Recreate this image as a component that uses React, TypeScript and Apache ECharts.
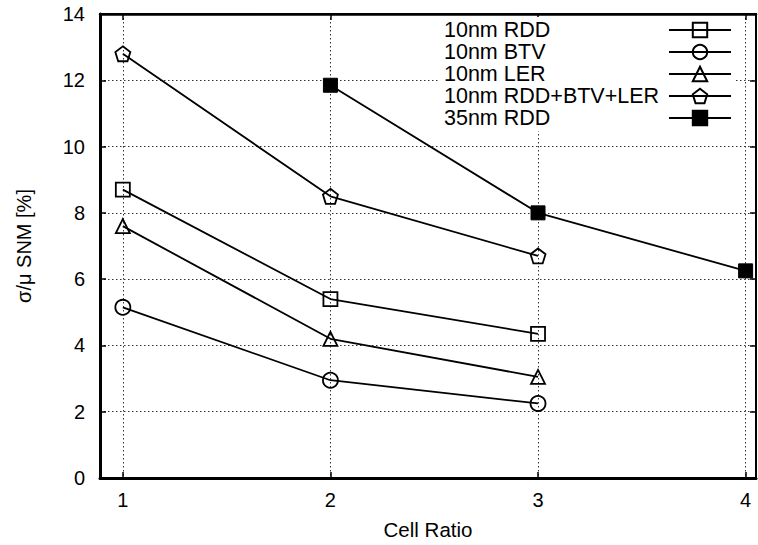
import React, { useEffect, useRef } from "react";
import * as echarts from "echarts";

// Cell ratio values (x) for each family of curves
const cellRatio10nm = [1, 2, 3];
const cellRatio35nm = [2, 3, 4];

// σ/μ of SNM in percent
const rdd10nm = [8.7, 5.4, 4.35];
const btv10nm = [5.15, 2.95, 2.25];
const ler10nm = [7.6, 4.2, 3.05];
const combined10nm = [12.8, 8.5, 6.7];
const rdd35nm = [11.85, 8.0, 6.25];

const seriesNames = [
  "10nm RDD",
  "10nm BTV",
  "10nm LER",
  "10nm RDD+BTV+LER",
  "35nm RDD",
];

const FONT = "'Liberation Sans', Arial, Helvetica, sans-serif";
const PENTAGON = "path://M0,-10L9.51,-3.09L5.88,8.09L-5.88,8.09L-9.51,-3.09Z";

const pairs = (xs: number[], ys: number[]) => xs.map((x, i) => [x, ys[i]]);

export default function App() {
  const ref = useRef<HTMLDivElement>(null);

  useEffect(() => {
    if (!ref.current) return;
    const chart = echarts.init(ref.current, undefined, { renderer: "svg" });

    const openItem = { color: "rgba(0,0,0,0)", borderColor: "#000", borderWidth: 1.8 };
    const line = { color: "#000", width: 1.8 };

    const mk = (name: string, data: number[][], symbol: string, size: number, filled = false) => ({
      name,
      type: "line",
      data,
      symbol,
      symbolSize: size,
      showAllSymbol: true,
      color: "#000",
      lineStyle: line,
      itemStyle: filled ? { color: "#000", borderColor: "#000", borderWidth: 1 } : openItem,
      xAxisIndex: 0,
      yAxisIndex: 0,
      z: 5,
    });

    const gridLine = { show: true, lineStyle: { color: "#333", width: 1, type: [1.5, 2.5] as any } };
    const tick = { show: true, inside: true, length: 6, lineStyle: { color: "#000", width: 1.5 } };

    chart.setOption({
      animation: false,
      backgroundColor: "#fff",
      textStyle: { fontFamily: FONT, color: "#000" },
      grid: {
        left: 100,
        right: 2,
        top: 14,
        bottom: 65,
        show: true,
        borderColor: "#000",
        borderWidth: 2,
        backgroundColor: "rgba(0,0,0,0)",
      },
      legend: {
        orient: "vertical",
        left: 440,
        top: 17,
        align: "right",
        backgroundColor: "#fff",
        padding: [2, 4, 2, 4],
        itemWidth: 62,
        itemHeight: 18,
        itemGap: 0,
        data: seriesNames,
        formatter: (name: string) => `{t|${name}}`,
        textStyle: {
          fontFamily: FONT,
          fontSize: 21.5,
          color: "#000",
          rich: {
            t: {
              fontFamily: FONT,
              fontSize: 21.5,
              color: "#000",
              width: 220,
              align: "left",
              lineHeight: 22,
            },
          },
        },
      },
      xAxis: [
        {
          type: "value",
          min: 0.89,
          max: 4.05,
          splitNumber: 3,
          name: "Cell Ratio",
          nameLocation: "middle",
          nameGap: 41,
          nameTextStyle: { fontFamily: FONT, fontSize: 20.5, color: "#000" },
          axisLine: { show: true, onZero: false, lineStyle: { color: "#000", width: 3 } },
          axisTick: tick,
          axisLabel: {
            showMinLabel: false,
            showMaxLabel: false,
            margin: 12,
            fontFamily: FONT,
            fontSize: 20,
            color: "#000",
          },
          splitLine: gridLine,
        },
        {
          type: "value",
          position: "top",
          min: 0.89,
          max: 4.05,
          splitNumber: 3,
          axisLine: { show: true, onZero: false, lineStyle: { color: "#000", width: 2.5 } },
          axisTick: tick,
          axisLabel: { show: false },
          splitLine: { show: false },
        },
      ],
      yAxis: [
        {
          type: "value",
          min: 0,
          max: 14,
          interval: 2,
          name: "σ/μ SNM [%]",
          nameLocation: "middle",
          nameGap: 66,
          nameTextStyle: { fontFamily: FONT, fontSize: 20, color: "#000" },
          axisLine: { show: true, onZero: false, lineStyle: { color: "#000", width: 3 } },
          axisTick: tick,
          axisLabel: { margin: 15, fontFamily: FONT, fontSize: 20, color: "#000" },
          splitLine: gridLine,
        },
        {
          type: "value",
          position: "right",
          min: 0,
          max: 14,
          interval: 2,
          axisLine: { show: true, onZero: false, lineStyle: { color: "#000", width: 2 } },
          axisTick: tick,
          axisLabel: { show: false },
          splitLine: { show: false },
        },
      ],
      series: [
        mk(seriesNames[0], pairs(cellRatio10nm, rdd10nm), "rect", 14),
        mk(seriesNames[1], pairs(cellRatio10nm, btv10nm), "circle", 15),
        mk(seriesNames[2], pairs(cellRatio10nm, ler10nm), "triangle", 14),
        mk(seriesNames[3], pairs(cellRatio10nm, combined10nm), PENTAGON, 15),
        mk(seriesNames[4], pairs(cellRatio35nm, rdd35nm), "rect", 14, true),
      ],
    });

    return () => chart.dispose();
  }, []);

  return (
    <div
      ref={ref}
      style={{ position: "fixed", left: 0, top: 0, width: 758, height: 545 }}
    />
  );
}
